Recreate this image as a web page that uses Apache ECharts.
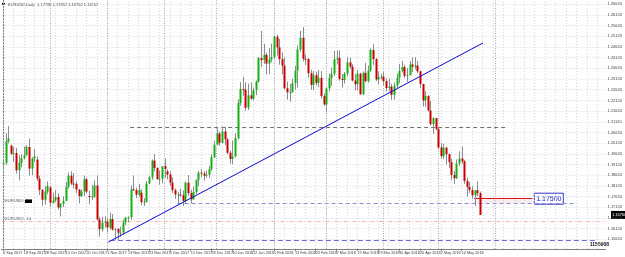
<!DOCTYPE html>
<html><head><meta charset="utf-8">
<script src="https://cdn.jsdelivr.net/npm/echarts@6/dist/echarts.min.js"></script>
<style>html,body{margin:0;padding:0;background:#fff;overflow:hidden}#c{width:625px;height:257px}</style>
</head><body><div id="c"></div>
<script>
// Daily EURUSD bars, 6 Sep 2017 .. 23 May 2018 (bar index = position)
const open=[1.1917,1.1920,1.2021,1.2000,1.1963,1.1966,1.1885,1.1920,1.1942,1.1955,1.1994,1.1893,1.1940,1.1935,1.1846,1.1793,1.1747,1.1784,
1.1805,1.1733,1.1743,1.1760,1.1711,1.1728,1.1742,1.1808,1.1860,1.1823,1.1822,1.1795,1.1764,1.1786,1.1843,1.1765,1.1760,1.1762,1.1814,1.1655,1.1609,1.1640,
1.1645,1.1617,1.1657,1.1608,1.1610,1.1593,1.1593,1.1641,1.1664,1.1665,1.1796,1.1792,1.1771,1.1780,1.1736,1.1738,1.1823,1.1852,1.1930,1.1896,1.1844,1.1846,
1.1904,1.1880,1.1865,1.1827,1.1792,1.1772,1.1772,1.1768,1.1742,1.1827,1.1778,1.1749,1.1783,1.1839,1.1874,1.1870,1.1860,1.1864,1.1891,1.1946,
1.2005,1.2057,1.2014,1.2067,1.2030,1.1967,1.1938,1.1950,1.2035,1.2200,1.2265,1.2262,1.2178,1.2236,1.2220,1.2260,1.2300,1.2410,1.2400,1.2425,1.2384,1.2405,
1.2415,1.2510,1.2460,1.2405,1.2375,1.2269,1.2250,1.2250,1.2293,1.2352,1.2450,1.2505,1.2407,1.2406,1.2339,1.2285,1.2330,1.2294,1.2318,1.2232,
1.2193,1.2268,1.2317,1.2337,1.2405,1.2411,1.2312,1.2308,1.2337,1.2390,1.2370,1.2305,1.2288,1.2337,1.2240,1.2341,1.2302,1.2352,1.2448,1.2405,1.2310,1.2322,
1.2323,1.2302,1.2270,1.2276,1.2238,1.2281,1.2319,1.2350,1.2368,1.2327,1.2330,1.2380,1.2370,1.2375,1.2348,1.2289,1.2212,1.2233,1.2165,1.2101,1.2129,
1.2079,1.1992,1.1951,1.1991,1.1960,1.1923,1.1863,1.1848,1.1917,1.1940,1.1927,1.1835,1.1807,1.1793,1.1768,1.1791,1.1778];
const high=[1.1938,1.2059,1.2092,1.2005,1.1995,1.1990,1.1955,1.1960,1.1996,1.2003,1.2034,1.1945,1.1985,1.1950,1.1859,1.1797,1.1810,1.1833,
1.1812,1.1780,1.1792,1.1776,1.1732,1.1764,1.1830,1.1875,1.1880,1.1872,1.1834,1.1796,1.1794,1.1860,1.1849,1.1790,1.1816,1.1838,1.1861,1.1667,1.1667,1.1669,
1.1663,1.1687,1.1680,1.1616,1.1615,1.1620,1.1655,1.1667,1.1670,1.1814,1.1861,1.1803,1.1821,1.1796,1.1754,1.1835,1.1860,1.1936,1.1961,1.1899,1.1883,1.1900,
1.1940,1.1890,1.1880,1.1852,1.1800,1.1785,1.1799,1.1791,1.1833,1.1863,1.1795,1.1810,1.1843,1.1883,1.1890,1.1880,1.1884,1.1905,1.1960,1.2023,
1.2081,1.2065,1.2089,1.2088,1.2036,1.1977,1.2024,1.2059,1.2218,1.2297,1.2323,1.2296,1.2291,1.2296,1.2272,1.2306,1.2415,1.2537,1.2477,1.2436,1.2457,1.2478,
1.2515,1.2520,1.2500,1.2437,1.2413,1.2299,1.2289,1.2313,1.2373,1.2469,1.2537,1.2555,1.2427,1.2410,1.2355,1.2349,1.2346,1.2355,1.2350,1.2245,
1.2274,1.2336,1.2366,1.2444,1.2446,1.2446,1.2336,1.2345,1.2413,1.2413,1.2381,1.2336,1.2355,1.2341,1.2348,1.2388,1.2375,1.2455,1.2476,1.2410,1.2348,1.2337,
1.2346,1.2315,1.2314,1.2290,1.2296,1.2338,1.2382,1.2396,1.2379,1.2363,1.2396,1.2414,1.2414,1.2396,1.2352,1.2290,1.2255,1.2237,1.2210,1.2133,1.2130,
1.2085,1.2012,1.2009,1.1995,1.1964,1.1939,1.1882,1.1936,1.1974,1.1996,1.1934,1.1850,1.1830,1.1810,1.1791,1.1833,1.1785];
const low=[1.1889,1.1910,1.2011,1.1955,1.1924,1.1869,1.1838,1.1899,1.1935,1.1955,1.1861,1.1862,1.1923,1.1836,1.1769,1.1718,1.1723,1.1773,
1.1714,1.1728,1.1736,1.1701,1.1669,1.1713,1.1741,1.1800,1.1816,1.1800,1.1778,1.1730,1.1760,1.1765,1.1777,1.1727,1.1745,1.1755,1.1651,1.1574,1.1599,1.1617,
1.1594,1.1608,1.1602,1.1557,1.1554,1.1574,1.1585,1.1628,1.1640,1.1652,1.1788,1.1755,1.1760,1.1722,1.1718,1.1733,1.1820,1.1840,1.1880,1.1840,1.1818,1.1825,
1.1850,1.1842,1.1811,1.1779,1.1751,1.1730,1.1761,1.1717,1.1726,1.1766,1.1730,1.1749,1.1774,1.1810,1.1853,1.1837,1.1850,1.1850,1.1882,1.1942,
1.2003,1.2000,1.2012,1.2002,1.1960,1.1916,1.1914,1.1945,1.2030,1.2187,1.2235,1.2164,1.2167,1.2216,1.2213,1.2236,1.2295,1.2368,1.2383,1.2334,1.2336,1.2391,
1.2407,1.2422,1.2379,1.2334,1.2263,1.2216,1.2206,1.2250,1.2262,1.2272,1.2440,1.2394,1.2378,1.2319,1.2262,1.2261,1.2282,1.2275,1.2221,1.2187,
1.2155,1.2255,1.2280,1.2327,1.2380,1.2304,1.2272,1.2291,1.2325,1.2361,1.2301,1.2259,1.2259,1.2240,1.2238,1.2297,1.2296,1.2346,1.2377,1.2303,1.2286,1.2310,
1.2283,1.2254,1.2255,1.2215,1.2216,1.2270,1.2293,1.2343,1.2318,1.2299,1.2330,1.2345,1.2357,1.2340,1.2270,1.2183,1.2183,1.2161,1.2095,1.2055,1.2073,
1.1985,1.1940,1.1938,1.1911,1.1896,1.1838,1.1822,1.1844,1.1905,1.1915,1.1821,1.1763,1.1779,1.1750,1.1717,1.1763,1.1676];
const close=[1.1920,1.2021,1.2034,1.1963,1.1966,1.1885,1.1920,1.1942,1.1955,1.1994,1.1893,1.1940,1.1950,1.1846,1.1793,1.1747,1.1784,1.1812,
1.1733,1.1743,1.1760,1.1711,1.1728,1.1742,1.1808,1.1860,1.1823,1.1822,1.1795,1.1764,1.1786,1.1843,1.1785,1.1760,1.1762,1.1814,1.1655,1.1609,1.1640,1.1645,
1.1617,1.1657,1.1608,1.1610,1.1593,1.1593,1.1641,1.1664,1.1665,1.1796,1.1792,1.1771,1.1793,1.1736,1.1738,1.1823,1.1852,1.1930,1.1896,1.1844,1.1846,1.1904,
1.1892,1.1865,1.1827,1.1792,1.1772,1.1772,1.1768,1.1742,1.1827,1.1778,1.1749,1.1783,1.1839,1.1874,1.1870,1.1860,1.1864,1.1891,1.1946,1.2005,
1.2057,1.2014,1.2067,1.2030,1.1967,1.1938,1.1950,1.2035,1.2200,1.2265,1.2262,1.2178,1.2236,1.2220,1.2260,1.2300,1.2410,1.2400,1.2425,1.2384,1.2405,1.2415,
1.2510,1.2460,1.2405,1.2375,1.2269,1.2250,1.2250,1.2293,1.2352,1.2450,1.2505,1.2407,1.2406,1.2339,1.2285,1.2330,1.2294,1.2318,1.2232,1.2193,
1.2268,1.2317,1.2337,1.2405,1.2411,1.2312,1.2308,1.2337,1.2390,1.2370,1.2305,1.2288,1.2337,1.2240,1.2341,1.2302,1.2352,1.2448,1.2405,1.2310,1.2322,1.2323,
1.2302,1.2270,1.2276,1.2238,1.2281,1.2319,1.2350,1.2368,1.2327,1.2330,1.2380,1.2370,1.2375,1.2348,1.2289,1.2212,1.2233,1.2165,1.2101,1.2129,1.2079,
1.1992,1.1951,1.1991,1.1960,1.1923,1.1863,1.1848,1.1917,1.1940,1.1927,1.1835,1.1807,1.1793,1.1768,1.1791,1.1778,1.1676];

const xTickLabels=['6 Sep 2017','18 Sep 2017','28 Sep 2017','10 Oct 2017','20 Oct 2017','1 Nov 2017','13 Nov 2017','23 Nov 2017',
'5 Dec 2017','15 Dec 2017','28 Dec 2017','10 Jan 2018','22 Jan 2018','1 Feb 2018','13 Feb 2018','23 Feb 2018','7 Mar 2018',
'19 Mar 2018','29 Mar 2018','10 Apr 2018','20 Apr 2018','2 May 2018','14 May 2018','24 May 2018'];
const xTickStep=8;
const monthStarts=[18,40,62,82,104,124,146,167,189];
const yTickValues=[1.1562,1.1612,1.1662,1.1712,1.1762,1.1812,1.1862,1.1912,1.1962,1.2012,1.2062,1.2112,1.2162,1.2212,1.2262,1.2312,1.2362,1.2412,1.2462,1.2512,1.2562,1.2612,1.2662];
const trendLine=[[40.4,1.1549],[184.2,1.2481]];
const levelResist=1.2088, levelBlue=1.1732, levelPink=1.1648, levelLow=1.1559, levelRed=1.1752;
const lastPrice=1.1676;

const chart=echarts.init(document.getElementById('c'),null,{renderer:'canvas'});
const XMIN=-0.569, XMAX=231.2, YMIN=1.15166, YMAX=1.26819;
const gridColor='#d6d6ee';
const gridLines=[];
for(let i=0;i<=228;i+=4){gridLines.push([{coord:[i,YMIN]},{coord:[i,YMAX]}]);}
yTickValues.forEach(v=>gridLines.push([{coord:[XMIN,v]},{coord:[XMAX,v]}]));
const sepLines=monthStarts.map(i=>[{coord:[i,YMIN]},{coord:[i,YMAX]}]);
const font='"Liberation Sans Narrow", "Liberation Sans", Arial, sans-serif';

chart.setOption({
  animation:false,
  backgroundColor:'#ffffff',
  grid:{left:0,top:0,width:611,height:249,containLabel:false},
  xAxis:{type:'value',min:XMIN,max:XMAX,
    axisLine:{show:true,lineStyle:{color:'#808080',width:1}},
    axisTick:{show:true,length:2,lineStyle:{color:'#808080'},customValues:xTickLabels.map((_,k)=>k*xTickStep)},
    axisLabel:{show:true,hideOverlap:false,customValues:xTickLabels.map((_,k)=>k*xTickStep),formatter:v=>xTickLabels[Math.round(v/xTickStep)]||'',
      fontSize:3.8,color:'#404040',align:'left',margin:2,fontFamily:font},
    splitLine:{show:false}},
  yAxis:{type:'value',position:'right',min:YMIN,max:YMAX,
    axisLine:{show:true,lineStyle:{color:'#808080',width:1}},
    axisTick:{show:true,length:1.5,lineStyle:{color:'#808080'},customValues:yTickValues},
    axisLabel:{show:true,customValues:yTickValues,formatter:v=>v.toFixed(5),fontSize:4,color:'#404040',margin:2,fontFamily:font},
    splitLine:{show:false}},
  series:[
    {type:'line',data:[],z:1,silent:true,
      markLine:{silent:true,symbol:'none',label:{show:false},animation:false,
        lineStyle:{color:gridColor,type:[1,2],width:1},data:gridLines}},
    {type:'line',data:[],z:2,silent:true,
      markLine:{silent:true,symbol:'none',label:{show:false},animation:false,
        lineStyle:{color:'#a8a8a8',type:[1,1.5],width:1},data:sepLines}},
    {type:'line',data:[],z:3,silent:true,
      markLine:{silent:true,symbol:'none',label:{show:false},animation:false,
        data:[
          [{coord:[48.8,levelResist],lineStyle:{color:'#707070',type:[4,3],width:1}},{coord:[193.7,levelResist]}],
          [{coord:[67,levelBlue],lineStyle:{color:'#8c8cd8',type:[4,3],width:1}},{coord:[219.5,levelBlue]}],
          [{coord:[XMIN,levelPink],lineStyle:{color:'#f2b8a8',type:[4,2,1,2],width:1}},{coord:[XMAX,levelPink]}],
          [{coord:[41,levelLow],lineStyle:{color:'#6a6ae6',type:[5,3],width:1}},{coord:[228,levelLow]}]
        ]},
      markArea:{silent:true,itemStyle:{color:'#f5ecec'},data:[[{coord:[180.8,levelRed]},{coord:[203.1,levelBlue]}]]}},
    {type:'custom',z:5,
      renderItem:(params,api)=>{
        const i=api.value(0),o=api.value(1),h=api.value(2),l=api.value(3),c=api.value(4);
        const pH=api.coord([i,h]),pL=api.coord([i,l]),pO=api.coord([i,o]),pC=api.coord([i,c]);
        const x=Math.round(pH[0])+0.5;
        const top=Math.min(pO[1],pC[1]),bot=Math.max(pO[1],pC[1]);
        const up=c>=o;
        return {type:'group',children:[
          {type:'line',shape:{x1:x,y1:pH[1],x2:x,y2:pL[1]},style:{stroke:'#8c8c8c',lineWidth:1}},
          {type:'rect',shape:{x:x-1,y:top,width:2,height:Math.max(bot-top,1)},style:{fill:up?'#12b012':'#c40000'}}
        ]};
      },
      encode:{x:0,y:[1,2,3,4]},
      data:open.map((o,i)=>[i,o,high[i],low[i],close[i]])},
    {type:'line',z:8,silent:true,showSymbol:false,data:trendLine,lineStyle:{color:'#0a0ad0',width:1}},
    {type:'line',data:[],z:8,silent:true,
      markLine:{silent:true,symbol:'none',label:{show:false},animation:false,
        data:[[{coord:[180.8,levelRed],lineStyle:{color:'#e01010',type:'solid',width:1.2}},{coord:[203.1,levelRed]}]]}}
  ]
});

const pRedEnd=chart.convertToPixel({gridIndex:0},[203.1,levelRed]);
const pLast=chart.convertToPixel({gridIndex:0},[XMAX,lastPrice]);
const pBlue=chart.convertToPixel({gridIndex:0},[0,levelBlue]);
const pPink=chart.convertToPixel({gridIndex:0},[0,levelPink]);
chart.setOption({graphic:[
  {type:'rect',left:2,top:3,shape:{width:3,height:2},style:{fill:'#000'}},
  {type:'text',left:8,top:2.5,style:{text:'EURUSD,Daily  1.17788 1.17852 1.16762 1.16762',fontSize:4,fill:'#404040',fontFamily:font}},
  {type:'rect',shape:{x:pRedEnd[0]+2,y:pRedEnd[1]-5.5,width:29,height:11},style:{fill:'#ffffff',stroke:'#3030d0',lineWidth:1}},
  {type:'text',x:pRedEnd[0]+16.5,y:pRedEnd[1],style:{text:'1.17500',fontSize:7,fill:'#2020c8',align:'center',verticalAlign:'middle',fontFamily:'"Liberation Sans", Arial, sans-serif'}},
  {type:'rect',shape:{x:611,y:pLast[1]-4,width:14,height:8},style:{fill:'#000'}},
  {type:'text',x:612,y:pLast[1],style:{text:lastPrice.toFixed(5),fontSize:4,fill:'#ffffff',verticalAlign:'middle',fontFamily:font}},
  {type:'text',x:3,y:pBlue[1]-2,style:{text:'#EURUSD#, 1d',fontSize:4,fill:'#505050',verticalAlign:'middle',fontFamily:font}},
  {type:'rect',shape:{x:25,y:pBlue[1]-3.5,width:7,height:3.5},style:{fill:'#000'}},
  {type:'text',x:3,y:pPink[1]-2,style:{text:'#EURUSD#, 1d',fontSize:4,fill:'#505050',verticalAlign:'middle',fontFamily:font}},
  {type:'text',x:609,y:245,style:{text:'1155908',fontSize:5,fontWeight:'bold',fill:'#101010',align:'right',verticalAlign:'middle',fontFamily:font}}
]});
</script>
</body></html>
